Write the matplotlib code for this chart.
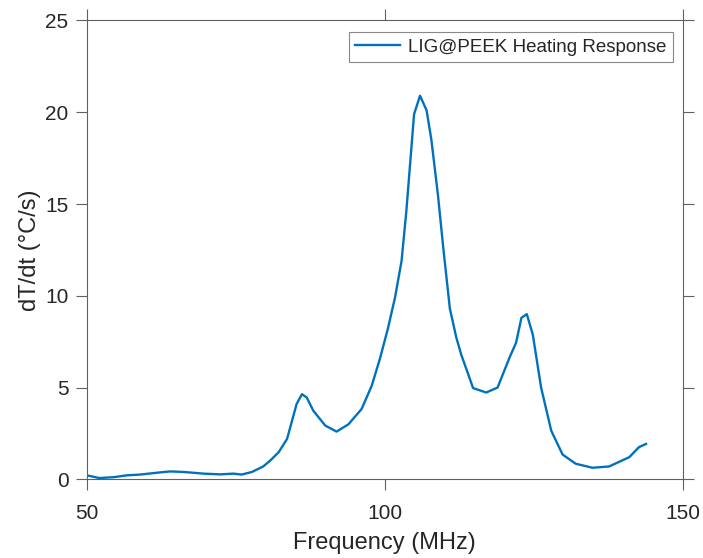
import matplotlib
matplotlib.use("Agg")
import matplotlib.pyplot as plt

freq = [50.0, 52.1, 54.6, 56.8, 59.0, 61.8, 64.0, 66.3, 69.6, 72.4, 74.6, 76.0,
        77.7, 79.6, 80.8, 82.2, 83.6, 85.2, 86.1, 86.9, 88.0, 90.0, 91.9, 93.9,
        96.1, 97.8, 99.2, 100.5, 101.7, 102.8, 103.6, 104.9, 105.9, 107.0, 107.8,
        108.9, 109.8, 110.9, 112.0, 112.8, 114.8, 117.0, 118.9, 120.9, 122.0,
        122.9, 123.8, 124.8, 126.2, 127.9, 129.8, 132.0, 134.8, 137.6, 141.0,
        142.6, 143.8]
rate = [0.22, 0.07, 0.12, 0.22, 0.26, 0.36, 0.43, 0.40, 0.31, 0.27, 0.31, 0.26,
        0.40, 0.70, 1.03, 1.48, 2.2, 4.1, 4.64, 4.46, 3.74, 2.93, 2.6, 3.0,
        3.83, 5.1, 6.6, 8.2, 9.9, 11.9, 14.6, 19.9, 20.9, 20.1, 18.5,
        15.5, 12.6, 9.3, 7.7, 6.8, 4.97, 4.73, 5.0, 6.63, 7.44,
        8.8, 9.0, 7.9, 5.0, 2.65, 1.35, 0.85, 0.63, 0.7, 1.21,
        1.75, 1.93]

xticks = [50, 100, 150]
yticks = [0, 5, 10, 15, 20, 25]

plt.rcParams['font.family'] = ['Liberation Sans', 'DejaVu Sans']

fig = plt.figure(figsize=(7.03, 5.58), dpi=100)
ax = fig.add_axes([0.1233, 0.1410, 0.8483, 0.8223])
ax.plot(freq, rate, color='#0072BD', lw=1.7, label='LIG@PEEK Heating Response')
ax.set_xlim(50, 150)
ax.set_ylim(0, 25)
ax.set_xticks(xticks)
ax.set_yticks(yticks)
grey = '#262626'
axcol = '#606060'
for s in ax.spines.values():
    s.set_color(axcol)
    s.set_linewidth(0.8)
ax.tick_params(direction='out', length=8, width=0.8, color=axcol,
               labelsize=15, labelcolor=grey, top=True, right=True,
               labeltop=False, labelright=False)
ax.tick_params(axis='x', pad=10)
ax.tick_params(axis='y', pad=5)
ax.set_xlabel('Frequency (MHz)', fontsize=17, color=grey, labelpad=6)
ax.set_ylabel('dT/dt (°C/s)', fontsize=17, color=grey, labelpad=3)
leg = ax.legend(loc='upper right', bbox_to_anchor=(0.983, 0.975), borderaxespad=0,
                fontsize=13.5, fancybox=False, framealpha=1, edgecolor='#888888',
                handlelength=2.4, handletextpad=0.4, borderpad=0.35)
leg.get_frame().set_linewidth(0.8)
for t in leg.get_texts():
    t.set_color(grey)
fig.savefig('out.png', dpi=100)
